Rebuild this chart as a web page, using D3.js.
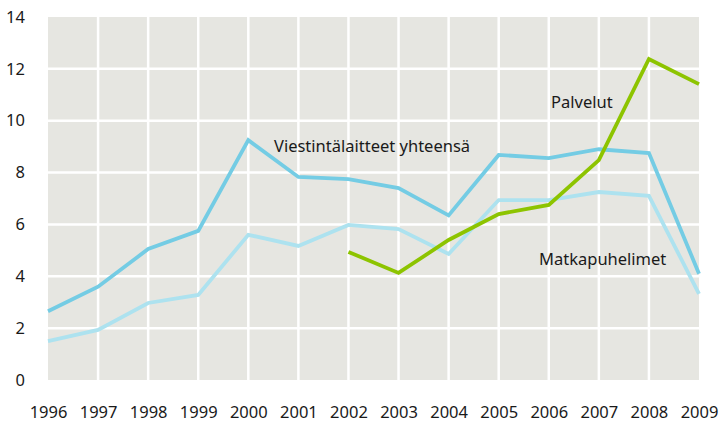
<!DOCTYPE html>
<html>
<head>
<meta charset="utf-8">
<script src="https://cdn.jsdelivr.net/npm/d3@7"></script>
<style>
  body { margin: 0; background: #fff; }
  text { font-family: "Noto Sans", sans-serif; fill: #1a1a1a; }
</style>
</head>
<body>
<div id="chart"></div>
<script>
// data
const years = [1996, 1997, 1998, 1999, 2000, 2001, 2002, 2003, 2004, 2005, 2006, 2007, 2008, 2009]
const viestinta = [2.65, 3.6, 5.05, 5.75, 9.25, 7.83, 7.75, 7.4, 6.35, 8.68, 8.56, 8.9, 8.75, 4.1]
const matkapuhelimet = [1.5, 1.93, 2.97, 3.28, 5.6, 5.17, 5.98, 5.82, 4.86, 6.94, 6.94, 7.25, 7.1, 3.32]
const palvelut = [null, null, null, null, null, null, 4.94, 4.13, 5.4, 6.4, 6.75, 8.48, 12.38, 11.41]
const yTicks = [0, 2, 4, 6, 8, 10, 12, 14]

// container with dimensions
let width = 719,
    height = 424,
    margin = { top: 17, right: 20, bottom: 44, left: 48 }

let svg = d3.select("#chart")
    .append("svg")
    .attr("width", width)
    .attr("height", height)

// scales
let x = d3.scaleLinear()
    .domain([1996, 2009])
    .range([margin.left, width - margin.right])

let y = d3.scaleLinear()
    .domain([0, 14])
    .range([height - margin.bottom, margin.top])

// grey background
svg.append("rect")
    .attr("x", x(1996))
    .attr("y", y(14))
    .attr("width", x(2009) - x(1996))
    .attr("height", y(0) - y(14))
    .style("fill", "#e6e6e1")

// white grid
svg.selectAll(".vgrid")
    .data(years.slice(1, -1))
    .enter().append("line")
    .attr("class", "vgrid")
    .attr("x1", d => x(d)).attr("x2", d => x(d))
    .attr("y1", y(14)).attr("y2", y(0))
    .style("stroke", "#fff")
    .style("stroke-width", 2.5)

svg.selectAll(".hgrid")
    .data(yTicks.slice(1, -1))
    .enter().append("line")
    .attr("class", "hgrid")
    .attr("x1", x(1996)).attr("x2", x(2009))
    .attr("y1", d => y(d)).attr("y2", d => y(d))
    .style("stroke", "#fff")
    .style("stroke-width", 2.5)

// axes
let xAxis = d3.axisBottom(x).tickValues(years).tickFormat(d3.format("d")).tickSize(0).tickPadding(0)
let yAxis = d3.axisLeft(y).tickValues(yTicks).tickSize(0).tickPadding(0)

let gx = svg.append("g")
    .attr("transform", `translate(0,${y(0) + 38})`)
    .call(xAxis)
gx.select(".domain").remove()
gx.selectAll("text").style("font-size", "16.5px").attr("dy", 0)

let gy = svg.append("g")
    .attr("transform", `translate(25,0)`)
    .call(yAxis)
gy.select(".domain").remove()
gy.selectAll("text").style("font-size", "16.5px").attr("text-anchor", "end")

// lines
let line = d3.line()
    .defined(d => d[1] != null)
    .x(d => x(d[0]))
    .y(d => y(d[1]))

const series = [
    { values: matkapuhelimet, color: "#ade2ef" },
    { values: viestinta, color: "#74cce4" },
    { values: palvelut, color: "#8dc400" }
]

series.forEach(s => {
    svg.append("path")
        .datum(years.map((yr, i) => [yr, s.values[i]]))
        .attr("d", line)
        .style("fill", "none")
        .style("stroke", s.color)
        .style("stroke-width", 3.8)
        .style("stroke-linejoin", "miter")
})

// labels
svg.append("text").attr("x", 274).attr("y", 152).text("Viestintälaitteet yhteensä").style("font-size", "16.5px")
svg.append("text").attr("x", 551).attr("y", 108).text("Palvelut").style("font-size", "16.5px")
svg.append("text").attr("x", 539).attr("y", 265).text("Matkapuhelimet").style("font-size", "16.5px")
</script>
</body>
</html>
